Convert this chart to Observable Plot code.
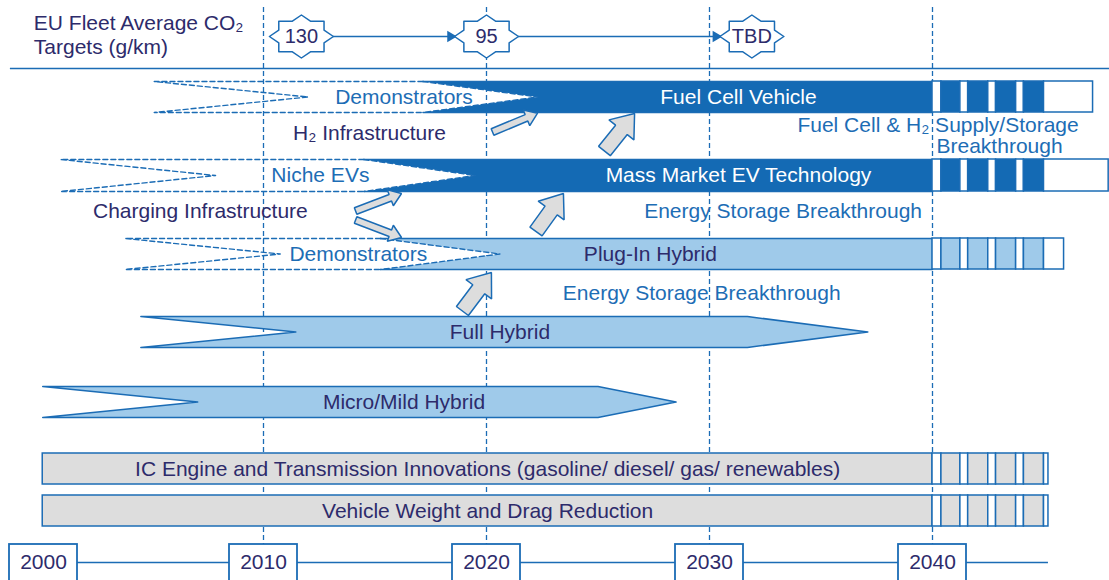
<!DOCTYPE html>
<html><head><meta charset="utf-8">
<script src="https://cdn.jsdelivr.net/npm/d3@7"></script>
<script src="https://cdn.jsdelivr.net/npm/@observablehq/plot@0.6"></script>
<style>body{margin:0;background:#fff}</style>
</head><body><div id="chart"></div>
<script>
// ---------------- DATA ----------------
const years = [2000, 2010, 2020, 2030, 2040];
const gridYears = [2010, 2020, 2030, 2040];

const co2Targets = ["130", "95", "TBD"];
const co2TargetYears = [2011.7, 2020.0, 2031.9];

// emerging technologies (dashed lead-in, then solid bar to 2040, then fading stripes)
const emergingTech = ["Fuel Cell Vehicle", "Mass Market EV Technology", "Plug-In Hybrid"];
const emergingLane = ["fcv", "ev", "phev"];
const leadInLabel = ["Demonstrators", "Niche EVs", "Demonstrators"];
const leadInStart = [2005.1, 2000.9, 2003.8];
const leadInTip = [2012.0, 2007.85, 2010.75];
const barStart = [2017.15, 2014.5, 2015.25];
const notchTip = [2022.3, 2019.5, 2020.6];
const fadeEnd = [2047.2, 2047.9, 2045.9];
const emergingLabelYear = [2031.3, 2031.3, 2027.35];
const leadInLabelYear = [2016.3, 2012.55, 2014.25];

// hybrids (arrow-shaped bars)
const hybridTech = ["Full Hybrid", "Micro/Mild Hybrid"];
const hybridLane = ["fh", "mmh"];
const hybridStart = [2004.5, 2000.1];
const hybridNotch = [2011.45, 2007.05];
const hybridShoulder = [2031.7, 2025.0];
const hybridEnd = [2037.1, 2028.5];
const hybridLabelYear = [2020.6, 2016.3];

// base technologies
const baseTech = ["IC Engine and Transmission Innovations (gasoline/ diesel/ gas/ renewables)", "Vehicle Weight and Drag Reduction"];
const baseLane = ["ic", "vw"];
const baseStart = [2000.1, 2000.1];
const baseEnd = [2045.2, 2045.2];
const baseLabelYear = [2020.05, 2020.05];

const planEnd = 2040;
const stripeEdges = [2040.4, 2041.25, 2041.6, 2042.5, 2042.85, 2043.75, 2044.1, 2045.0];

// enablers / annotations
const noteText = ["H₂ Infrastructure", "Charging Infrastructure", "Energy Storage Breakthrough", "Energy Storage Breakthrough", "Fuel Cell & H₂ Supply/Storage"];
const noteYear = [2014.75, 2007.17, 2033.3, 2029.65, 2040.25];
const noteRow = ["h2", "charge", "es1", "es2", "fcs"];
const noteKind = ["navy", "navy", "blue", "blue", "blue"];
const noteLine2 = ["Breakthrough"];
const noteLine2Year = [2040.18];

// transition arrows: from (year,row-level) to (year,row-level)
const arrowFromYear = [2020.27, 2025.29, 2014.13, 2014.13, 2022.22, 2018.92];
const arrowFromLevel = [131.5, 150.5, 210.5, 219.5, 231, 310.5];
const arrowToYear = [2022.29, 2026.64, 2016.19, 2016.19, 2023.45, 2020.22];
const arrowToLevel = [112.7, 113, 193, 237, 193, 272];
const arrowBig = [false, true, false, false, true, true];

// ---------------- LAYOUT ----------------
const W = 1109, H = 580;
const BLUE = "#1b6cb5", DARK = "#146ab4", LIGHT = "#9fcaea", GRAY = "#dddddd", NAVY = "#2d2b6b", TEXTBLUE = "#1d6db5";
const FONT = "'Liberation Sans', Arial, Helvetica, sans-serif";
const FS = 21;
const lane = {fcv: [81, 112], ev: [159, 191], phev: [238, 269], fh: [316, 347], mmh: [386, 417], ic: [453, 484], vw: [495, 526]};
const noteLevel = {h2: 133, charge: 211, es1: 211, es2: 293, fcs: 125};
const line2Level = 146;
const targetLevel = 36, sepLevel = 68, axisLevel = 562;
const xOpts = {domain: [2000, 2040], range: [40, 932]};
const X = Plot.scale({x: xOpts});
const ppy = X.apply(2001) - X.apply(2000);
const mid = k => (lane[k][0] + lane[k][1]) / 2;

// ---------- build shapes ----------
const polys = [];
const solidPaths = [];
const dashPaths = [];
const segs = [];

emergingTech.forEach((name, i) => {
  const k = emergingLane[i], [t, b] = lane[k], m = mid(k);
  const fill = k === "phev" ? LIGHT : DARK;
  [[barStart[i], t], [planEnd, t], [planEnd, b], [barStart[i], b], [notchTip[i], m]]
    .forEach(([x, y]) => polys.push({id: "e" + i, x, y, fill}));
  [[barStart[i], t], [planEnd, t], [planEnd, b], [barStart[i], b]]
    .forEach(([x, y]) => solidPaths.push({id: "e" + i, x, y}));
  [[barStart[i], t], [notchTip[i], m], [barStart[i], b]]
    .forEach(([x, y]) => dashPaths.push({id: "n" + i, x, y}));
  [[barStart[i], t], [leadInStart[i], t], [leadInTip[i], m], [leadInStart[i], b], [barStart[i], b]]
    .forEach(([x, y]) => dashPaths.push({id: "l" + i, x, y}));
  const edges = [planEnd, ...stripeEdges, fadeEnd[i]];
  for (let j = 0; j < edges.length - 1; j++)
    segs.push({x1: edges[j], x2: edges[j + 1], y1: t, y2: b, fill: j % 2 ? fill : "white"});
});

hybridTech.forEach((name, i) => {
  const k = hybridLane[i], [t, b] = lane[k], m = mid(k);
  [[hybridStart[i], t], [hybridShoulder[i], t], [hybridEnd[i], m], [hybridShoulder[i], b], [hybridStart[i], b], [hybridNotch[i], m]]
    .forEach(([x, y]) => polys.push({id: "h" + i, x, y, fill: LIGHT, outline: true}));
});

const baseRects = baseTech.map((name, i) => ({x1: baseStart[i], x2: planEnd, y1: lane[baseLane[i]][0], y2: lane[baseLane[i]][1]}));
baseTech.forEach((name, i) => {
  const [t, b] = lane[baseLane[i]];
  const edges = [planEnd, ...stripeEdges, baseEnd[i]];
  for (let j = 0; j < edges.length - 1; j++)
    segs.push({x1: edges[j], x2: edges[j + 1], y1: t, y2: b, fill: j % 2 ? GRAY : "white"});
});

// stars (octagram) around CO2 targets
const RX = 32, RY = 21.5, RIN = Math.cos(Math.PI / 4) / Math.cos(Math.PI / 8);
const stars = [];
co2TargetYears.forEach((yr, i) => {
  for (let j = 0; j < 16; j++) {
    const a = j * Math.PI / 8, r = j % 2 ? RIN : 1;
    stars.push({id: i, x: yr + r * RX * Math.cos(a) / ppy, y: targetLevel - r * RY * Math.sin(a)});
  }
});
const targetLinks = co2TargetYears.slice(0, -1).map((yr, i) => ({x1: yr + RX / ppy, x2: co2TargetYears[i + 1] - RX / ppy, y: targetLevel}));
const targetHeads = targetLinks.map(d => ({x: d.x2 - 4 / ppy, y: targetLevel}));

// block arrows
const arrowPts = [];
arrowFromYear.forEach((fy, i) => {
  const big = arrowBig[i];
  const sw = big ? 7.5 : 3.5, hw = big ? 16 : 8.5, hl = big ? 21 : 12;
  const p0 = [X.apply(fy), arrowFromLevel[i]], p1 = [X.apply(arrowToYear[i]), arrowToLevel[i]];
  const dx = p1[0] - p0[0], dy = p1[1] - p0[1], L = Math.hypot(dx, dy);
  const ux = dx / L, uy = dy / L, nx = -uy, ny = ux;
  const bx = p1[0] - ux * hl, by = p1[1] - uy * hl;
  [[p0[0] + nx * sw, p0[1] + ny * sw], [bx + nx * sw, by + ny * sw], [bx + nx * hw, by + ny * hw], p1,
   [bx - nx * hw, by - ny * hw], [bx - nx * sw, by - ny * sw], [p0[0] - nx * sw, p0[1] - ny * sw]]
    .forEach(([px, py]) => arrowPts.push({id: i, x: X.invert(px), y: py}));
});

// labels
const labels = [];
emergingTech.forEach((name, i) => {
  labels.push({text: name, x: emergingLabelYear[i], y: mid(emergingLane[i]), fill: emergingLane[i] === "phev" ? NAVY : "white"});
  labels.push({text: leadInLabel[i], x: leadInLabelYear[i], y: mid(emergingLane[i]), fill: TEXTBLUE});
});
hybridTech.forEach((name, i) => labels.push({text: name, x: hybridLabelYear[i], y: mid(hybridLane[i]), fill: NAVY}));
baseTech.forEach((name, i) => labels.push({text: name, x: baseLabelYear[i], y: mid(baseLane[i]), fill: NAVY}));
noteText.forEach((t, i) => labels.push({text: t, x: noteYear[i], y: noteLevel[noteRow[i]], fill: noteKind[i] === "navy" ? NAVY : TEXTBLUE}));
const startLabels = noteLine2.map((t, i) => ({text: t, x: noteLine2Year[i], y: line2Level}));

const boxHalf = 34 / ppy, boxShift0 = 3 / ppy;
const yearBoxes = years.map(y => {
  const c = y + (y === 2000 ? boxShift0 : 0);
  return {x1: c - boxHalf, x2: c + boxHalf, y1: 544, y2: 600, label: String(y), cx: c};
});

const chart = Plot.plot({
  width: W, height: H, margin: 0,
  x: {...xOpts, axis: null},
  y: {domain: [0, H], range: [0, H], axis: null},
  style: {fontFamily: FONT, background: "white", overflow: "visible"},
  marks: [
    Plot.ruleX(gridYears, {x: d => d, y1: 7, y2: 544, stroke: BLUE, strokeWidth: 1.3, strokeDasharray: "5,3"}),
    Plot.ruleY([{y: sepLevel, x1: 1998.65, x2: 2048}], {y: "y", x1: "x1", x2: "x2", stroke: BLUE, strokeWidth: 1.5}),
    // CO2 targets
    Plot.ruleY(targetLinks, {y: "y", x1: "x1", x2: "x2", stroke: BLUE, strokeWidth: 1.5}),
    Plot.dot(targetHeads, {x: "x", y: "y", symbol: "triangle", rotate: 90, r: 4.2, fill: BLUE, stroke: null}),
    Plot.line(stars, {x: "x", y: "y", z: "id", curve: "linear-closed", fill: "white", stroke: BLUE, strokeWidth: 1.5}),
    Plot.text(co2Targets, {x: (d, i) => co2TargetYears[i], y: () => targetLevel, text: d => d, fill: NAVY, fontSize: 20}),
    Plot.text(["EU Fleet Average CO₂\nTargets (g/km)"], {x: () => 1999.7, y: () => 34, text: d => d, textAnchor: "start", lineHeight: 1.15, fill: NAVY, fontSize: FS}),
    // base rows
    Plot.rect(baseRects, {x1: "x1", x2: "x2", y1: "y1", y2: "y2", fill: GRAY, stroke: BLUE, strokeWidth: 1.5}),
    // filled polygons
    Plot.line(polys.filter(d => !d.outline), {x: "x", y: "y", z: "id", curve: "linear-closed", fill: d => d.fill, stroke: null}),
    Plot.line(polys.filter(d => d.outline), {x: "x", y: "y", z: "id", curve: "linear-closed", fill: LIGHT, stroke: BLUE, strokeWidth: 1.5}),
    Plot.line(solidPaths, {x: "x", y: "y", z: "id", stroke: BLUE, strokeWidth: 1.5}),
    Plot.line(dashPaths, {x: "x", y: "y", z: "id", stroke: BLUE, strokeWidth: 1.4, strokeDasharray: "5,3"}),
    Plot.rect(segs, {x1: "x1", x2: "x2", y1: "y1", y2: "y2", fill: "fill", stroke: BLUE, strokeWidth: 1.5}),
    // labels
    Plot.text(labels, {x: "x", y: "y", text: "text", fill: "fill", fontSize: FS}),
    Plot.text(startLabels, {x: "x", y: "y", text: "text", fill: TEXTBLUE, textAnchor: "start", fontSize: FS}),
    // arrows
    Plot.line(arrowPts, {x: "x", y: "y", z: "id", curve: "linear-closed", fill: GRAY, stroke: BLUE, strokeWidth: 1.5, strokeLinejoin: "miter"}),
    // time axis
    Plot.ruleY([{y: axisLevel, x1: 2000, x2: 2045.2}], {y: "y", x1: "x1", x2: "x2", stroke: BLUE, strokeWidth: 1.3}),
    Plot.rect(yearBoxes, {x1: "x1", x2: "x2", y1: "y1", y2: "y2", fill: "white", stroke: BLUE, strokeWidth: 1.8}),
    Plot.text(yearBoxes, {x: "cx", y: () => axisLevel, text: "label", fill: NAVY, fontSize: FS})
  ]
});
document.getElementById("chart").appendChild(chart);
</script></body></html>
